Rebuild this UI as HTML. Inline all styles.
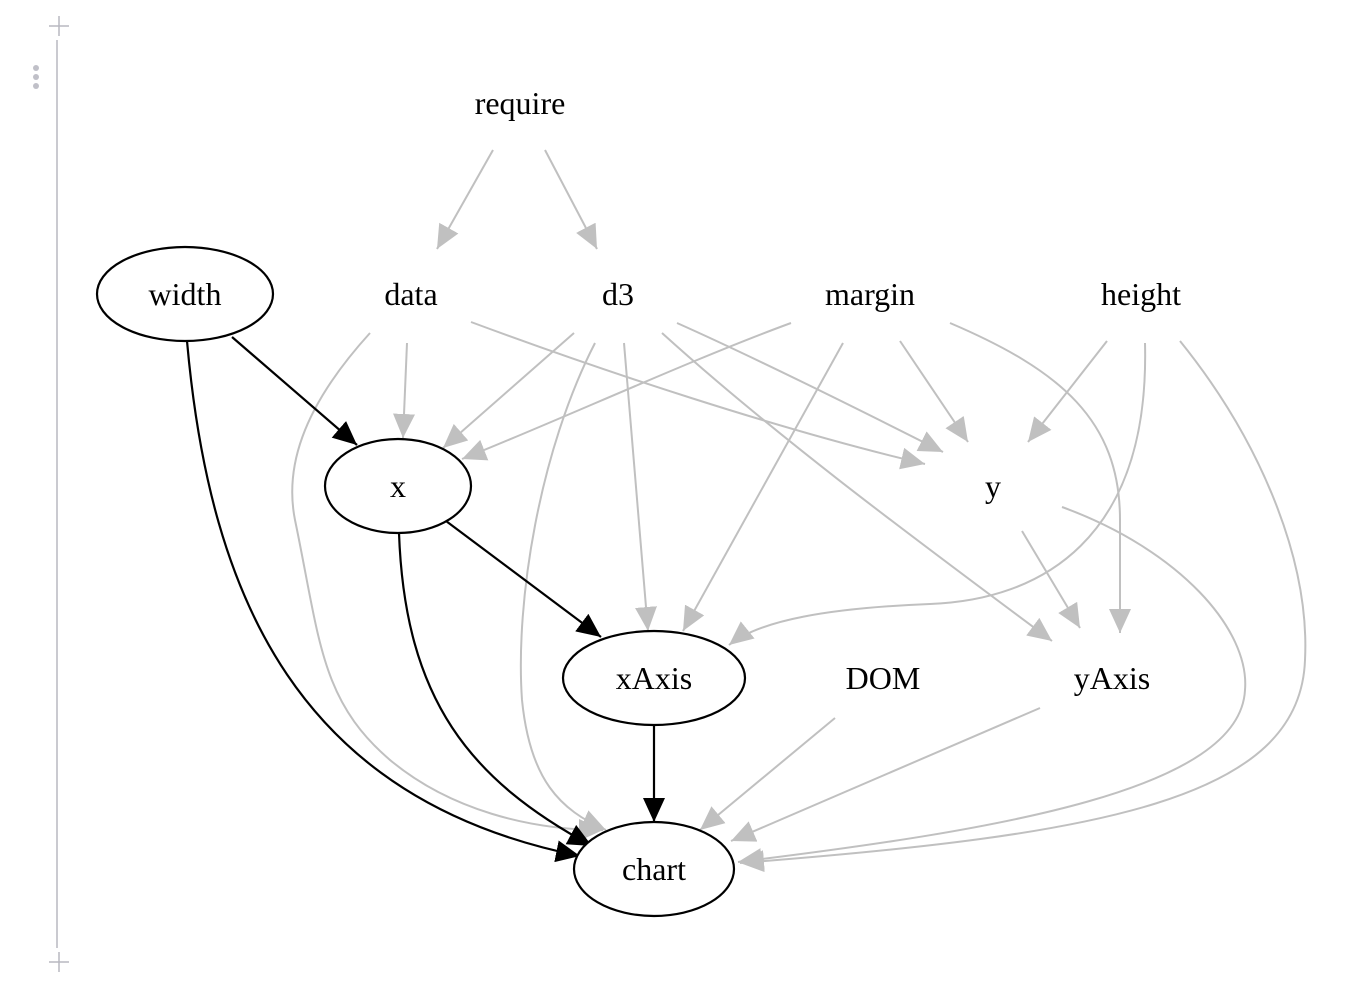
<!DOCTYPE html>
<html><head><meta charset="utf-8"><style>
html,body{margin:0;padding:0;background:#fff;width:1362px;height:982px;overflow:hidden}
text{font-family:"Liberation Serif",serif;font-size:32px;text-anchor:middle;fill:#000}
</style></head><body>
<svg width="1362" height="982" viewBox="0 0 1362 982" xmlns="http://www.w3.org/2000/svg">
<defs>
<marker id="g" markerUnits="userSpaceOnUse" markerWidth="26" markerHeight="24" refX="24" refY="11" orient="auto"><path d="M0,0 L24,11 L0,22 Z" fill="#c0c0c0"/></marker>
<marker id="b" markerUnits="userSpaceOnUse" markerWidth="26" markerHeight="24" refX="24" refY="11" orient="auto"><path d="M0,0 L24,11 L0,22 Z" fill="#000"/></marker>
</defs>
<!-- margin decoration -->
<g stroke="#b8b8c0" stroke-width="1.5" fill="none">
<line x1="57" y1="40" x2="57" y2="948"/>
<line x1="49" y1="26" x2="69" y2="26"/><line x1="59" y1="16" x2="59" y2="36"/>
<line x1="49" y1="962" x2="69" y2="962"/><line x1="59" y1="952" x2="59" y2="972"/>
</g>
<g fill="#c0c0c8"><circle cx="36" cy="68" r="3"/><circle cx="36" cy="77" r="3"/><circle cx="36" cy="86" r="3"/></g>
<!-- gray edges -->
<g stroke="#c0c0c0" stroke-width="2" fill="none" marker-end="url(#g)">
<path d="M493,150 L437,249"/>
<path d="M545,150 L597,249"/>
<path d="M407,343 L403,438"/>
<path d="M471,322 C600,370 780,430 925,464"/>
<path d="M370,333 C300,410 285,470 295,520 C320,640 320,700 390,760 C450,810 530,830 603,830"/>
<path d="M574,333 L443,448"/>
<path d="M677,323 C760,360 860,410 943,452"/>
<path d="M624,343 L648,631"/>
<path d="M662,333 C780,440 930,550 1052,641"/>
<path d="M595,343 C540,450 515,600 522,700 C530,780 560,810 606,830"/>
<path d="M791,323 C690,360 560,420 462,459"/>
<path d="M843,343 L683,631"/>
<path d="M900,341 L968,442"/>
<path d="M950,323 C1060,370 1120,420 1120,520 L1120,633"/>
<path d="M1107,341 L1028,442"/>
<path d="M1145,343 C1150,540 1040,600 930,604 C830,608 760,620 729,645"/>
<path d="M1180,341 C1260,440 1310,560 1305,660 C1300,800 1100,835 740,863"/>
<path d="M1022,531 L1080,628"/>
<path d="M1062,507 C1180,550 1250,630 1245,690 C1240,790 1000,830 738,862"/>
<path d="M835,718 L700,830"/>
<path d="M1040,708 L731,841"/>
</g>
<!-- black edges -->
<g stroke="#000" stroke-width="2.2" fill="none" marker-end="url(#b)">
<path d="M232,337 L357,445"/>
<path d="M187,341 C210,600 300,800 580,856"/>
<path d="M399,533 C405,700 470,780 592,846"/>
<path d="M446,521 L601,637"/>
<path d="M654,725 L654,822"/>
</g>
<!-- nodes -->
<g fill="#fff" stroke="#000" stroke-width="2.2">
<ellipse cx="185" cy="294" rx="88" ry="47"/>
<ellipse cx="398" cy="486" rx="73" ry="47"/>
<ellipse cx="654" cy="678" rx="91" ry="47"/>
<ellipse cx="654" cy="869" rx="80" ry="47"/>
</g>
<text x="520" y="114">require</text>
<text x="185" y="305">width</text>
<text x="411" y="305">data</text>
<text x="618" y="305">d3</text>
<text x="870" y="305">margin</text>
<text x="1141" y="305">height</text>
<text x="398" y="497">x</text>
<text x="993" y="497">y</text>
<text x="654" y="689">xAxis</text>
<text x="883" y="689">DOM</text>
<text x="1112" y="689">yAxis</text>
<text x="654" y="880">chart</text>
</svg>
</body></html>
